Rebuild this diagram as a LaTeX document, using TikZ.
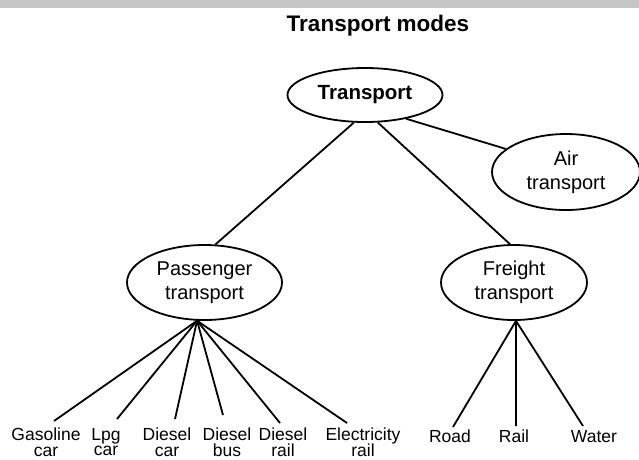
\documentclass[tikz,border=0pt]{standalone}
\usepackage{fontspec}
\setmainfont{Liberation Sans}
\usetikzlibrary{shapes.geometric}
% leaf labels use a fixed, tight leading
\newcommand\tightleading{\lineskiplimit=-20pt\relax\lineskip=0pt\relax}
\begin{document}
\begin{tikzpicture}[x=1pt,y=-1pt,
  oval/.style={ellipse,draw,line width=1.8pt,align=center,inner sep=1pt,
    font=\fontsize{20}{24}\selectfont},
  leaf/.style={anchor=north,align=center,inner sep=0pt,
    font=\fontsize{17.5}{15.5}\selectfont\tightleading},
  link/.style={line width=1.8pt}]
\useasboundingbox (0,0) rectangle (639,459);
\fill[gray!45] (0,0) rectangle (639,8);

% title
\node[anchor=base,font=\fontsize{22.5}{26}\selectfont\bfseries] (title) at (378,31.5) {Transport modes};

% main nodes
\node[oval,minimum width=155pt,minimum height=54pt,font=\fontsize{20.5}{24}\selectfont\bfseries] (trans) at (365,95) {Transport};
\node[oval,minimum width=148pt,minimum height=76pt] (air) at (566,172) {Air\\transport};
\node[oval,minimum width=155pt,minimum height=75pt] (pass) at (204.5,282.5) {Passenger\\transport};
\node[oval,minimum width=146pt,minimum height=75pt] (freight) at (514,282.5) {Freight\\transport};

% leaves
\node[leaf] (gas)   at (46,428)  {Gasoline\\car};
\node[leaf] (lpg)   at (106,428) {Lpg\\car};
\node[leaf] (dcar)  at (167,428) {Diesel\\car};
\node[leaf] (dbus)  at (227,428) {Diesel\\bus};
\node[leaf] (drail) at (283,428) {Diesel\\rail};
\node[leaf] (elec)  at (363,428) {Electricity\\rail};
\node[leaf] (road)  at (450,430) {Road};
\node[leaf] (rail)  at (514,430) {Rail};
\node[leaf] (water) at (594,430) {Water};

% connectors between the ovals
\draw[link] (trans.-112) -- (pass.74);
\draw[link] (trans.-65) -- (freight.96);
\draw[link] (trans.-30) -- (air.159);

% passenger fan
\draw[link] (pass.-101) -- ([xshift=8pt,yshift=7pt]gas.north);
\draw[link] (pass.-101) -- ([xshift=11pt,yshift=9pt]lpg.north);
\draw[link] (pass.-101) -- ([xshift=8pt,yshift=9pt]dcar.north);
\draw[link] (pass.-101) -- ([xshift=-4pt,yshift=13pt]dbus.north);
\draw[link] (pass.-101) -- ([xshift=-3pt,yshift=5pt]drail.north);
\draw[link] (pass.-101) -- ([xshift=-16pt,yshift=5pt]elec.north);

% freight fan
\draw[link] (freight.-87) -- ([xshift=3pt,yshift=3pt]road.north);
\draw[link] (freight.-87) -- ([xshift=2pt,yshift=4pt]rail.north);
\draw[link] (freight.-87) -- ([xshift=-11pt,yshift=4pt]water.north);
\end{tikzpicture}
\end{document}
